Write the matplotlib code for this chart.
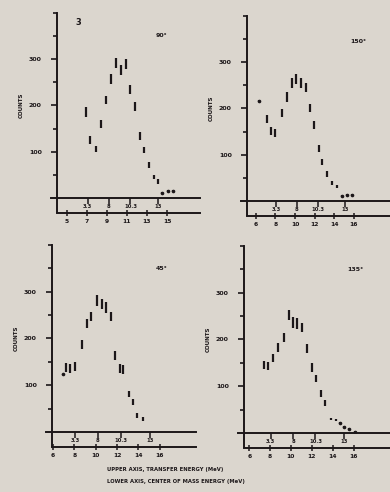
import matplotlib
matplotlib.use("Agg")
import matplotlib.pyplot as plt
import numpy as np

# scanned-paper look
paper = "#dbd6ce"
ink = "#1c1719"

# --- data (x = lower axis units, y = counts) ---
x_a = [7.9, 8.3, 8.9, 9.4, 9.9, 10.4, 10.9, 11.4, 11.9, 12.3, 12.8, 13.3, 13.7,
       14.2, 14.7, 15.1, 15.5, 16.1, 16.6]
y_a = [186, 125, 106, 160, 212, 257, 292, 276, 289, 235, 197, 134, 104,
       71, 45, 35, 11, 15, 15]
e_a = [10, 8, 7, 8, 9, 10, 11, 11, 11, 10, 10, 8, 7, 6, 5, 5, 2, 2, 2]

x_b = [6.3, 7.1, 7.6, 8.0, 8.65, 9.2, 9.7, 10.1, 10.6, 11.1, 11.5, 11.9, 12.4,
       12.8, 13.3, 13.8, 14.3, 14.8, 15.3, 15.8]
y_b = [216, 177, 151, 147, 190, 225, 255, 263, 255, 246, 201, 164, 114,
       84, 58, 39, 32, 11, 13, 13]
e_b = [2, 8, 8, 8, 9, 10, 10, 11, 10, 10, 9, 9, 8, 7, 6, 4, 3, 2, 2, 2]

x_c = [6.9, 7.2, 7.6, 8.1, 8.7, 9.2, 9.6, 10.1, 10.6, 11.0, 11.4, 11.8, 12.3,
       12.6, 13.1, 13.5, 13.9, 14.4]
y_c = [123, 138, 136, 140, 187, 232, 247, 281, 274, 266, 247, 164, 136,
       134, 81, 64, 36, 28]
e_c = [2, 10, 10, 10, 9, 10, 10, 11, 11, 11, 10, 9, 9, 9, 7, 7, 5, 4]

x_d = [7.4, 7.8, 8.3, 8.8, 9.3, 9.8, 10.2, 10.6, 11.1, 11.5, 12.0, 12.4, 12.9,
       13.3, 13.8, 14.3, 14.7, 15.1, 15.6, 16.1]
y_d = [145, 143, 160, 183, 204, 253, 236, 234, 226, 181, 140, 117, 85,
       64, 30, 28, 21, 13, 9, 2]
e_d = [9, 9, 9, 10, 10, 11, 11, 11, 10, 9, 9, 8, 7, 6, 3, 3, 2, 2, 2, 2]

# lower axis (c.m. energy) ticks and upper axis (transfer energy) ticks
lower_ticks = [6, 8, 10, 12, 14, 16]
lower_labels_a = ["5", "7", "9", "11", "13", "15"]
lower_labels = ["6", "8", "10", "12", "14", "16"]
upper_ticks = [8.05, 10.2, 12.35, 15.1]
upper_labels = ["3.3", "8", "10.3", "13"]

panel_tags = ["90°", "150°", "45°", "135°"]

# axes rectangles [left, bottom, width, height] and x limits
rects = [
    [57 / 390, 1 - 198 / 492, 143 / 390, 186 / 492],
    [247 / 390, 1 - 201 / 492, 143 / 390, 186 / 492],
    [52 / 390, 1 - 432 / 492, 144 / 390, 188 / 492],
    [244 / 390, 1 - 433 / 492, 146 / 390, 188 / 492],
]
xlims = [(5.0, 19.3), (5.1, 19.7), (5.9, 19.4), (5.5, 19.5)]
tag_pos = [(0.69, 0.865), (0.72, 0.85), (0.72, 0.86), (0.71, 0.86)]

series = [(x_a, y_a, e_a), (x_b, y_b, e_b), (x_c, y_c, e_c), (x_d, y_d, e_d)]

fig = plt.figure(figsize=(3.9, 4.92), dpi=100, facecolor=paper)

for i, (xs, ys, es) in enumerate(series):
    ax = fig.add_axes(rects[i])
    ax.set_facecolor("none")
    ax.errorbar(xs, ys, yerr=es, fmt="none", ecolor=ink, elinewidth=1.6,
                capsize=0)
    # tail points appear as dots
    small = [j for j in range(len(xs)) if es[j] <= 2]
    ax.plot([xs[j] for j in small], [ys[j] for j in small], "o", ms=1.6,
            color=ink)

    ax.set_xlim(*xlims[i])
    ax.set_ylim(0, 402)
    for s in ["top", "right"]:
        ax.spines[s].set_visible(False)
    for s in ["left", "bottom"]:
        ax.spines[s].set_color(ink)
        ax.spines[s].set_linewidth(1.4)
    ax.spines["left"].set_bounds(-30, 400)
    ax.spines["bottom"].set_bounds(xlims[i][0] - 0.6, xlims[i][1])

    # y axis
    ax.set_yticks([100, 200, 300])
    ax.set_yticklabels(["100", "200", "300"], fontsize=4.5,
                       fontweight="bold", color=ink)
    ax.set_yticks([50, 150, 250, 350, 400], minor=True)
    ax.tick_params(axis="y", which="major", direction="out", length=4,
                   width=1.2, color=ink, pad=7)
    ax.tick_params(axis="y", which="minor", direction="out", length=3,
                   width=1.2, color=ink)
    ax.set_ylabel("COUNTS", fontsize=4, fontweight="bold", color=ink,
                  labelpad=4)

    # upper axis labels sit just under the main axis line
    ax.set_xticks(upper_ticks)
    ax.set_xticklabels(upper_labels, fontsize=3.8, fontweight="bold",
                       color=ink)
    ax.tick_params(axis="x", direction="out", length=4, width=1.1,
                   color=ink, pad=0.5)

    # lower axis
    sec = ax.secondary_xaxis(-0.08)
    sec.spines["bottom"].set_color(ink)
    sec.spines["bottom"].set_linewidth(1.4)
    sec.set_xticks(lower_ticks)
    sec.set_xticklabels(lower_labels_a if i == 0 else lower_labels,
                        fontsize=4.3, fontweight="bold", color=ink)
    sec.tick_params(axis="x", direction="inout", length=5, width=1.1,
                    color=ink, pad=2)

    ax.text(tag_pos[i][0], tag_pos[i][1], panel_tags[i],
            transform=ax.transAxes, fontsize=4.5, fontweight="bold",
            color=ink)
    if i == 0:
        ax.text(0.13, 0.93, "3", transform=ax.transAxes, fontsize=6,
                fontweight="bold", color=ink)

fig.text(107 / 390, 1 - 469 / 492, "UPPER AXIS, TRANSFER ENERGY (MeV)",
         fontsize=3.8, fontweight="bold", color=ink, va="center")
fig.text(107 / 390, 1 - 482 / 492, "LOWER AXIS, CENTER OF MASS ENERGY (MeV)",
         fontsize=3.8, fontweight="bold", color=ink, va="center")

fig.savefig("out.png", dpi=100, facecolor=paper)
